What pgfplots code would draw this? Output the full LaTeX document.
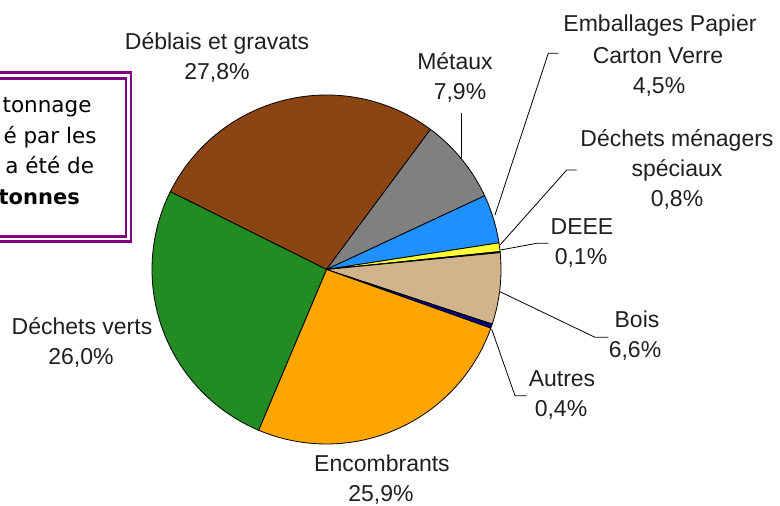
\documentclass[border=0pt]{standalone}
\usepackage{pgfplots}
\pgfplotsset{compat=1.18}
\usepackage{fontspec}
\setmainfont{Liberation Sans}
\newfontfamily\boxfont{DejaVu Sans}
\definecolor{cDeb}{HTML}{8B4513}
\definecolor{cMet}{HTML}{808080}
\definecolor{cEmb}{HTML}{1E90FF}
\definecolor{cDMS}{HTML}{FFFF33}
\definecolor{cDEEE}{HTML}{1C86EE}
\definecolor{cBois}{HTML}{D2B48C}
\definecolor{cAut}{HTML}{000080}
\definecolor{cEnc}{HTML}{FFA500}
\definecolor{cVer}{HTML}{228B22}
\definecolor{cFrame}{HTML}{800080}
\tikzset{lab/.style={anchor=base,inner sep=0pt,font=\fontsize{23}{28}\selectfont,text=black!88},
  boxt/.style={anchor=base east,inner sep=0pt,font=\boxfont\fontsize{21.5}{24}\selectfont,text=black}}
\begin{document}
\begin{tikzpicture}
% data (percent), clockwise from the Deblais slice
\def\vDeb{27.8}\def\vMet{7.9}\def\vEmb{4.5}\def\vDMS{0.8}\def\vDEEE{0.1}
\def\vBois{6.6}\def\vAut{0.4}\def\vEnc{25.9}\def\vVer{26.0}
\pgfmathsetmacro{\aA}{153.5}
\pgfmathsetmacro{\aB}{\aA-3.6*\vDeb}
\pgfmathsetmacro{\aC}{\aB-3.6*\vMet}
\pgfmathsetmacro{\aD}{\aC-3.6*\vEmb}
\pgfmathsetmacro{\aE}{\aD-3.6*\vDMS}
\pgfmathsetmacro{\aF}{\aE-3.6*\vDEEE}
\pgfmathsetmacro{\aG}{\aF-3.6*\vBois}
\pgfmathsetmacro{\aH}{\aG-3.6*\vAut}
\pgfmathsetmacro{\aI}{\aH-3.6*\vEnc}
\pgfmathsetmacro{\aJ}{\aI-3.6*\vVer}
\newcommand\slice[3]{\filldraw[fill=#3,draw=black,line width=0.8pt,line join=round]
  (axis cs:326.5,236.5) -- ++(#1:174.5pt) arc[start angle=#1,end angle=#2,radius=174.5pt] -- cycle;}
\begin{axis}[x=1pt,y=1pt,xmin=0,xmax=780,ymin=0,ymax=506,hide axis,
  anchor=south west,at={(0,0)},clip=false]
\slice{\aA}{\aB}{cDeb}
\slice{\aB}{\aC}{cMet}
\slice{\aC}{\aD}{cEmb}
\slice{\aD}{\aE}{cDMS}
\slice{\aE}{\aF}{cDEEE}
\slice{\aF}{\aG}{cBois}
\slice{\aG}{\aH}{cAut}
\slice{\aH}{\aI}{cEnc}
\slice{\aI}{\aJ}{cVer}
% leader lines
\draw[black,line width=0.8pt] (461.7,348) -- (461.7,393);
\draw[black,line width=0.8pt] (495,291) -- (548.3,452.7) -- (558.3,452.7);
\draw[black,line width=0.8pt] (500,261) -- (566.7,336) -- (576.7,336);
\draw[black,line width=0.8pt] (500.5,256) -- (536.7,262.7) -- (548.3,262.7);
\draw[black,line width=0.8pt] (500,214.3) -- (595,168.7) -- (608.3,168.7);
\draw[black,line width=0.8pt] (491.7,176.7) -- (515,110.3) -- (526.7,110.3);
% labels
\node[lab] at (217,456) {Déblais et gravats};
\node[lab] at (217,426) {27,8\%};
\node[lab] at (455,436) {Métaux};
\node[lab] at (460,406) {7,9\%};
\node[lab] at (660,474.3) {Emballages Papier};
\node[lab] at (658,442.7) {Carton Verre};
\node[lab] at (659,412.7) {4,5\%};
\node[lab] at (677,359.3) {Déchets ménagers};
\node[lab] at (677,329.3) {spéciaux};
\node[lab] at (677,299.3) {0,8\%};
\node[lab] at (582,271) {DEEE};
\node[lab] at (581,241) {0,1\%};
\node[lab] at (637,178) {Bois};
\node[lab] at (635,148) {6,6\%};
\node[lab] at (562,119.3) {Autres};
\node[lab] at (561,89.3) {0,4\%};
\node[lab] at (82,171) {Déchets verts};
\node[lab] at (81,141) {26,0\%};
\node[lab] at (382,34.3) {Encombrants};
\node[lab] at (381,4.3) {25,9\%};
% text box
\draw[cFrame,line width=2.6pt] (-20,433.3) -- (131,433.3) -- (131,264.3) -- (-20,264.3);
\draw[cFrame,line width=2.6pt] (-20,427.7) -- (126,427.7) -- (126,269.3) -- (-20,269.3);
\node[boxt] at (91.7,393.3) {tonnage};
\node[boxt] at (96.7,362.7) {é par les};
\node[boxt] at (94.3,332.7) {a été de};
\node[boxt,font=\boxfont\bfseries\fontsize{21}{24}\selectfont] at (80,301) {tonnes};
\end{axis}
\pgfresetboundingbox
\useasboundingbox (0,0) rectangle (780pt,506pt);
\end{tikzpicture}
\end{document}
